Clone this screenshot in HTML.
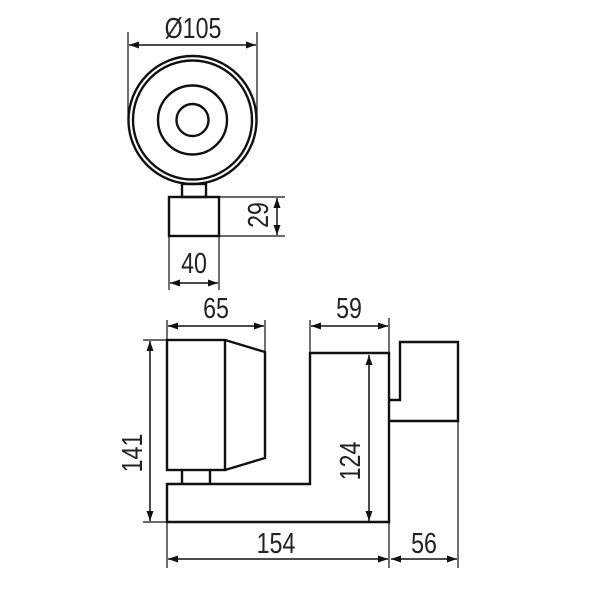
<!DOCTYPE html>
<html><head><style>body{margin:0;background:#fff}svg{display:block}
text{font-family:"Liberation Sans Narrow","Liberation Sans",sans-serif;font-size:29px;fill:#222}</style></head>
<body>
<svg width="600" height="600" viewBox="0 0 600 600" xmlns="http://www.w3.org/2000/svg">
<defs><marker id="a" viewBox="0 0 10 10" refX="10" refY="5" markerWidth="10" markerHeight="10" orient="auto-start-reverse" markerUnits="userSpaceOnUse"><path d="M0,1.5L10,5L0,8.5z" fill="#111"/></marker></defs>
<g fill="none" stroke="#111" stroke-width="2.4">
<circle cx="192.5" cy="120" r="64"/><circle cx="192.5" cy="120" r="59.5"/>
<circle cx="192.5" cy="120" r="34.5"/><circle cx="192.5" cy="120" r="16"/>
<rect x="182" y="184" width="24" height="13"/>
<rect x="169" y="197" width="50" height="39"/>
<rect x="167" y="340" width="58" height="130"/>
<path d="M225,340L265,352L265,458L225,470"/>
<path d="M182,470V484M210,470V484"/>
<path d="M167,522V484H310V353H389V522Z"/>
<path d="M389,421H458V342H400V400H389"/>
</g>
<g fill="none" stroke="#111" stroke-width="1.2">
<path d="M128,32V120M257,32V120"/>
<path d="M219,197H285M219,236H285"/>
<path d="M169,236V290M219,236V290"/>
<path d="M167,320V340M265,320V352"/>
<path d="M310,320V353M389,318V353"/>
<path d="M143,340H167M143,522H167"/>
<path d="M167,522V568M389,522V568M458,421V568"/>
</g>
<g stroke="#111" stroke-width="1.5" marker-start="url(#a)" marker-end="url(#a)">
<line x1="129" y1="45" x2="256" y2="45"/>
<line x1="277" y1="198" x2="277" y2="235"/>
<line x1="170" y1="283" x2="218" y2="283"/>
<line x1="168" y1="326" x2="264" y2="326"/>
<line x1="311" y1="326" x2="388" y2="326"/>
<line x1="150" y1="341" x2="150" y2="521"/>
<line x1="369" y1="355" x2="369" y2="521"/>
<line x1="168" y1="559" x2="388" y2="559"/>
<line x1="391" y1="559" x2="457" y2="559"/>
</g>
<g text-anchor="middle">
<text transform="translate(193 38) scale(0.8 1)">Ø105</text>
<text transform="translate(194 273) scale(0.8 1)">40</text>
<text transform="translate(216 318) scale(0.8 1)">65</text>
<text transform="translate(349 318) scale(0.8 1)">59</text>
<text transform="translate(276 553) scale(0.8 1)">154</text>
<text transform="translate(424 553) scale(0.8 1)">56</text>
<text transform="translate(268 215) rotate(-90) scale(0.8 1)">29</text>
<text transform="translate(142 453) rotate(-90) scale(0.8 1)">141</text>
<text transform="translate(360 461) rotate(-90) scale(0.8 1)">124</text>
</g>
</svg>
</body></html>
